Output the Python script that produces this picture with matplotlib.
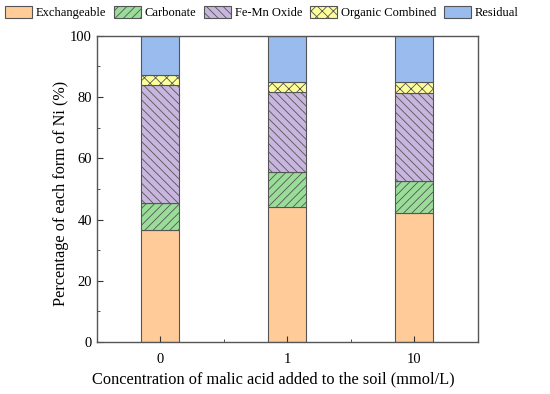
import numpy as np
import matplotlib
matplotlib.use("Agg")
import matplotlib.pyplot as plt
from matplotlib.ticker import MultipleLocator

plt.rcParams['font.family'] = ['Liberation Serif', 'DejaVu Serif']
plt.rcParams['hatch.linewidth'] = 0.6
plt.rcParams['hatch.color'] = '#444444'

concentrations = ['0', '1', '10']
forms = ['Exchangeable', 'Carbonate', 'Fe-Mn Oxide', 'Organic Combined', 'Residual']
exchangeable = [36.6, 44.0, 42.0]
carbonate = [8.9, 11.6, 10.5]
fe_mn_oxide = [38.3, 25.9, 28.8]
organic = [3.5, 3.4, 3.5]
residual = [12.7, 15.1, 15.2]

colors = ['#FFCC99', '#99DD99', '#C8B6DE', '#FFFF99', '#99BBEE']
hatches = ['', '////', '\\\\\\\\', 'xxx', '']

fig = plt.figure(figsize=(5.5, 3.94), dpi=100)
ax = fig.add_axes([0.176, 0.132, 0.693, 0.777])

x = np.arange(len(concentrations))
bottom = np.zeros(len(concentrations))
series = [exchangeable, carbonate, fe_mn_oxide, organic, residual]
for vals, name, c, h in zip(series, forms, colors, hatches):
    ax.bar(x, vals, 0.3, bottom=bottom, color=c, hatch=h,
           edgecolor='#555555', linewidth=0.8, label=name)
    bottom += np.array(vals)

ax.set_xlim(-0.5, 2.5)
ax.set_ylim(0, 100)
ax.set_xticks(x)
ax.set_xticklabels(concentrations)
ax.xaxis.set_minor_locator(MultipleLocator(0.5))
ax.yaxis.set_major_locator(MultipleLocator(20))
ax.yaxis.set_minor_locator(MultipleLocator(10))
ax.tick_params(which='both', direction='in', labelsize=10.5, colors='#333333')
ax.tick_params(which='major', length=4)
ax.tick_params(which='minor', length=2)
ax.tick_params(axis='x', pad=8)
for lbl in ax.get_xticklabels() + ax.get_yticklabels():
    lbl.set_color('black')
for s in ax.spines.values():
    s.set_color('#555555')
    s.set_linewidth(1.0)

ax.set_xlabel('Concentration of malic acid added to the soil (mmol/L)', fontsize=11.8)
ax.xaxis.set_label_coords(0.462, -0.095)
ax.set_ylabel('Percentage of each form of Ni (%)', fontsize=11.7)
ax.yaxis.set_label_coords(-0.072, 0.485)

fig.legend(loc='center', bbox_to_anchor=(0.476, 0.968), ncol=5, frameon=False,
           fontsize=9.0, handlelength=2.15, handleheight=1.1, columnspacing=0.65,
           handletextpad=0.3, borderaxespad=0.0, borderpad=0.0)

fig.savefig('out.png', dpi=100)
